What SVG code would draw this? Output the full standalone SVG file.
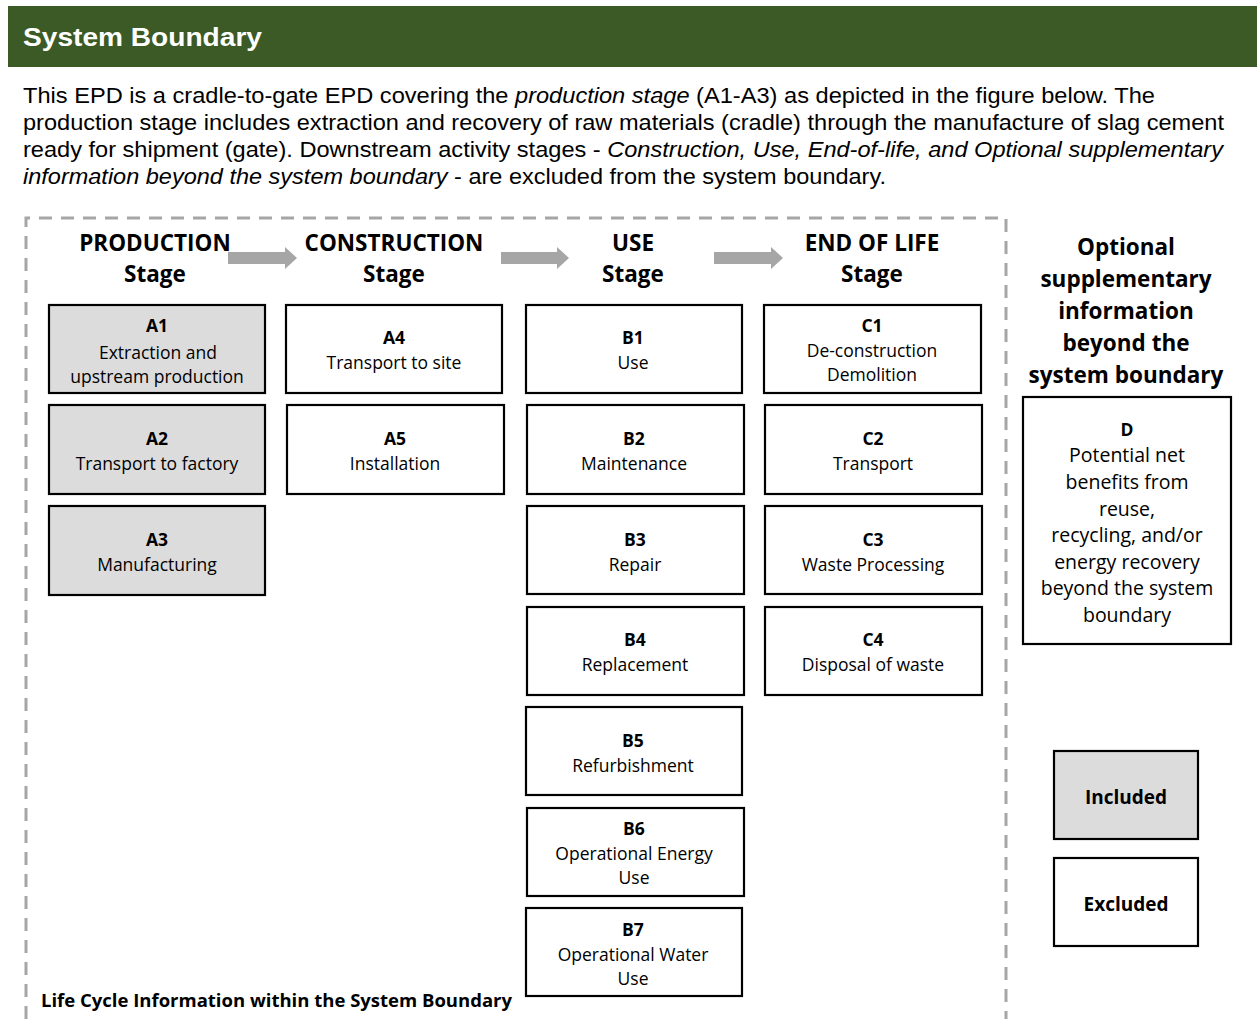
<svg xmlns="http://www.w3.org/2000/svg" width="1257" height="1019" viewBox="0 0 1257 1019">
<style>
.para{font-family:"Liberation Sans",Arial,sans-serif;font-size:21.5px;fill:#000}
.stage{font-family:"Open Sans",Lato,sans-serif;font-size:22.5px;font-weight:bold;fill:#000;text-anchor:middle}
.opt{font-size:22.5px}
.box{fill:#fff;stroke:#000;stroke-width:2.2}
.inc{fill:#dcdcdd}
.code{font-family:"Open Sans",Lato,sans-serif;font-size:17.5px;font-weight:bold;fill:#000;text-anchor:middle}
.leg{font-size:19px}
.desc{font-family:"Open Sans",Lato,sans-serif;font-size:17.5px;fill:#000;text-anchor:middle}
.ddesc{font-family:"Open Sans",Lato,sans-serif;font-size:19.5px;fill:#000;text-anchor:middle}
.arrow{fill:#a6a6a6}
</style>
<rect x="8" y="6" width="1249" height="61" fill="#3b5a26"/>
<text x="23" y="46" font-family="Liberation Sans,Arial,sans-serif" font-size="25" font-weight="bold" fill="#fff" textLength="239" lengthAdjust="spacingAndGlyphs">System Boundary</text>
<text class="para" x="23" y="103" textLength="1132" lengthAdjust="spacingAndGlyphs">This EPD is a cradle-to-gate EPD covering the <tspan font-style="italic">production stage</tspan> (A1-A3) as depicted in the figure below. The</text>
<text class="para" x="23" y="130" textLength="1201" lengthAdjust="spacingAndGlyphs">production stage includes extraction and recovery of raw materials (cradle) through the manufacture of slag cement</text>
<text class="para" x="23" y="157" textLength="1200" lengthAdjust="spacingAndGlyphs">ready for shipment (gate). Downstream activity stages - <tspan font-style="italic">Construction, Use, End-of-life, and Optional supplementary</tspan></text>
<text class="para" x="23" y="184" textLength="863" lengthAdjust="spacingAndGlyphs"><tspan font-style="italic">information beyond the system boundary</tspan> - are excluded from the system boundary.</text>

<path d="M26 1019 V218 H1006 V1019" fill="none" stroke="#a6a6a6" stroke-width="3" stroke-dasharray="13 9"/>

<g id="stage-headers">
<text class="stage" x="155" y="251">PRODUCTION</text><text class="stage" x="155" y="282">Stage</text>
<text class="stage" x="394" y="251">CONSTRUCTION</text><text class="stage" x="394" y="282">Stage</text>
<text class="stage" x="633" y="251">USE</text><text class="stage" x="633" y="282">Stage</text>
<text class="stage" x="872" y="251">END OF LIFE</text><text class="stage" x="872" y="282">Stage</text>
<text class="stage opt" x="1126" y="255">Optional</text>
<text class="stage opt" x="1126" y="287">supplementary</text>
<text class="stage opt" x="1126" y="319">information</text>
<text class="stage opt" x="1126" y="351">beyond the</text>
<text class="stage opt" x="1126" y="383">system boundary</text>
</g>

<g id="connectors">
<path class="arrow" d="M228 252 H285 V247 L297 258 L285 269 V264 H228 Z"/>
<path class="arrow" d="M501 252 H557 V247 L569 258 L557 269 V264 H501 Z"/>
<path class="arrow" d="M714 252 H771 V247 L783 258 L771 269 V264 H714 Z"/>
</g>

<g id="A1"><rect class="box inc" x="49" y="305" width="216" height="88"/><text class="code" x="157" y="332">A1</text><text class="desc" x="158" y="359">Extraction and</text><text class="desc" x="157" y="383">upstream production</text></g>
<g id="A2"><rect class="box inc" x="49" y="405" width="216" height="89"/><text class="code" x="157" y="445">A2</text><text class="desc" x="157" y="470">Transport to factory</text></g>
<g id="A3"><rect class="box inc" x="49" y="506" width="216" height="89"/><text class="code" x="157" y="546">A3</text><text class="desc" x="157" y="571">Manufacturing</text></g>

<g id="A4"><rect class="box" x="286" y="305" width="216" height="88"/><text class="code" x="394" y="344">A4</text><text class="desc" x="394" y="369">Transport to site</text></g>
<g id="A5"><rect class="box" x="287" y="405" width="217" height="89"/><text class="code" x="395" y="445">A5</text><text class="desc" x="395" y="470">Installation</text></g>

<g id="B1"><rect class="box" x="526" y="305" width="216" height="88"/><text class="code" x="633" y="344">B1</text><text class="desc" x="633" y="369">Use</text></g>
<g id="B2"><rect class="box" x="527" y="405" width="217" height="89"/><text class="code" x="634" y="445">B2</text><text class="desc" x="634" y="470">Maintenance</text></g>
<g id="B3"><rect class="box" x="527" y="506" width="217" height="88"/><text class="code" x="635" y="546">B3</text><text class="desc" x="635" y="571">Repair</text></g>
<g id="B4"><rect class="box" x="527" y="607" width="217" height="88"/><text class="code" x="635" y="646">B4</text><text class="desc" x="635" y="671">Replacement</text></g>
<g id="B5"><rect class="box" x="526" y="707" width="216" height="88"/><text class="code" x="633" y="747">B5</text><text class="desc" x="633" y="772">Refurbishment</text></g>
<g id="B6"><rect class="box" x="527" y="808" width="217" height="88"/><text class="code" x="634" y="835">B6</text><text class="desc" x="634" y="860">Operational Energy</text><text class="desc" x="634" y="884">Use</text></g>
<g id="B7"><rect class="box" x="526" y="908" width="216" height="88"/><text class="code" x="633" y="936">B7</text><text class="desc" x="633" y="961">Operational Water</text><text class="desc" x="633" y="985">Use</text></g>

<g id="C1"><rect class="box" x="764" y="305" width="217" height="88"/><text class="code" x="872" y="332">C1</text><text class="desc" x="872" y="357">De-construction</text><text class="desc" x="872" y="381">Demolition</text></g>
<g id="C2"><rect class="box" x="765" y="405" width="217" height="89"/><text class="code" x="873" y="445">C2</text><text class="desc" x="873" y="470">Transport</text></g>
<g id="C3"><rect class="box" x="765" y="506" width="217" height="88"/><text class="code" x="873" y="546">C3</text><text class="desc" x="873" y="571">Waste Processing</text></g>
<g id="C4"><rect class="box" x="765" y="607" width="217" height="88"/><text class="code" x="873" y="646">C4</text><text class="desc" x="873" y="671">Disposal of waste</text></g>

<g id="D"><rect class="box" x="1023" y="397" width="208" height="247"/><text class="code" x="1127" y="436">D</text>
<text class="ddesc" x="1127" y="462">Potential net</text>
<text class="ddesc" x="1127" y="489">benefits from</text>
<text class="ddesc" x="1127" y="516">reuse,</text>
<text class="ddesc" x="1127" y="542">recycling, and/or</text>
<text class="ddesc" x="1127" y="569">energy recovery</text>
<text class="ddesc" x="1127" y="595">beyond the system</text>
<text class="ddesc" x="1127" y="622">boundary</text></g>

<g id="legend-included"><rect class="box inc" x="1054" y="751" width="144" height="88"/><text class="code leg" x="1126" y="804">Included</text></g>
<g id="legend-excluded"><rect class="box" x="1054" y="858" width="144" height="88"/><text class="code leg" x="1126" y="911">Excluded</text></g>

<text x="41" y="1007" font-family="'Open Sans',Lato,sans-serif" font-size="18.5" font-weight="bold" fill="#000">Life Cycle Information within the System Boundary</text>
</svg>
